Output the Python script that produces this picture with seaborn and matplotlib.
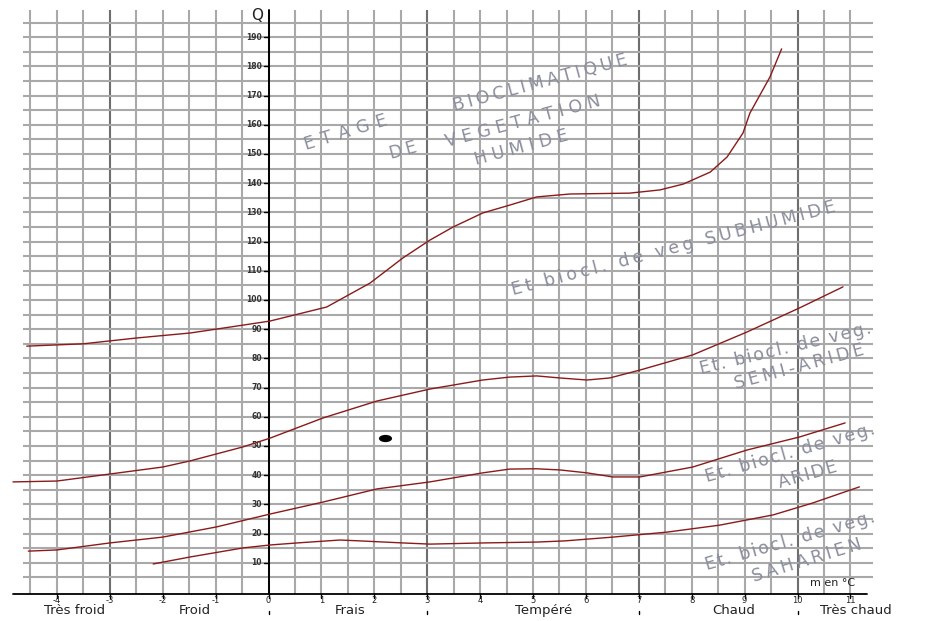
import matplotlib
matplotlib.use("Agg")
import matplotlib.pyplot as plt
from matplotlib.path import Path
from matplotlib.transforms import Affine2D
import seaborn as sns
import numpy as np
import pandas as pd

# ---------------- data ----------------
humide_x = [-4.57, -3.5, -2.49, -1.48, -0.48, 0.03, 1.1, 1.92, 2.54, 3.05, 3.49, 4.05, 4.56, 5.07, 5.7,
            6.83, 7.4, 7.84, 8.35, 8.67, 8.97, 9.1, 9.48, 9.7]
humide_q = [84.2, 85.0, 87.0, 88.7, 91.4, 92.8, 97.6, 105.8, 114.4, 120.5, 125.0, 129.8, 132.5, 135.3, 136.3,
            136.6, 137.7, 139.7, 143.8, 149.0, 157.2, 164.0, 176.4, 186.0]

subhumide_x = [-4.83, -4.0, -3.0, -2.0, -1.48, -0.98, -0.48, 0.03, 1.03, 2.05, 3.05, 4.05, 4.56, 5.07, 5.51,
               6.02, 6.45, 7.02, 8.02, 9.04, 10.04, 10.86]
subhumide_q = [37.7, 38.0, 40.4, 42.8, 44.9, 47.3, 49.7, 52.7, 59.6, 65.4, 69.5, 72.6, 73.6, 74.0, 73.3,
               72.6, 73.3, 76.0, 81.2, 89.0, 97.3, 104.5]

semiaride_x = [-4.54, -4.0, -3.0, -2.0, -0.98, 0.03, 1.03, 2.05, 3.05, 4.05, 4.56, 5.07, 5.51, 6.02, 6.51,
               7.02, 8.02, 9.04, 10.04, 10.9]
semiaride_q = [14.0, 14.4, 16.8, 18.8, 22.3, 26.7, 30.8, 35.3, 37.7, 40.8, 42.1, 42.2, 41.8, 40.8, 39.4,
               39.4, 42.8, 48.6, 53.1, 57.9]

aride_x = [-2.18, -1.48, -0.48, 0.03, 0.54, 1.35, 1.73, 2.54, 3.05, 4.05, 5.07, 5.6, 6.51, 7.53, 8.53,
           9.54, 10.29, 11.17]
aride_q = [9.6, 12.0, 15.1, 16.1, 16.8, 17.8, 17.5, 16.8, 16.4, 16.8, 17.1, 17.5, 18.8, 20.5, 22.9,
           26.4, 30.5, 36.0]

station_x = [2.2]
station_q = [52.7]

x_ticks = list(range(-4, 12))
q_ticks = list(range(10, 200, 10))
zone_labels = ["Très froid", "Froid", "Frais", "Tempéré", "Chaud", "Très chaud"]
zone_pos = [-3.66, -1.39, 1.54, 5.2, 8.8, 11.1]
zone_limits = [0, 3, 7, 10]

# ---------------- figure ----------------
W, H = 936, 621
fig = plt.figure(figsize=(W / 100, H / 100), dpi=100)
ax = fig.add_axes([0, 0, 1, 1])
sns.set_style("white")
plt.rcParams['font.family'] = ['DejaVu Sans']

x0_px, ux = 268.5, 52.9
q0_py, uq = 592.0, 2.92
ax.set_xlim((0 - x0_px) / ux, (W - x0_px) / ux)
ax.set_ylim((q0_py - H) / uq, q0_py / uq)
ax.axis("off")

grid_c = "#a9a9a9"
dark_c = "#6e6e6e"
q_bottom, q_top = -0.8, 199.3

# vertical grid
for xv in np.arange(-4.5, 11.01, 0.5):
    c = dark_c if xv in (-3, 3, 7, 10) else grid_c
    ax.plot([xv, xv], [q_bottom, q_top], color=c, lw=1.5, zorder=1, solid_capstyle="butt")
# horizontal grid
for qv in range(5, 200, 5):
    ax.plot([-4.64, 11.43], [qv, qv], color=grid_c, lw=1.5, zorder=1, solid_capstyle="butt")

# axes lines
ax.plot([-4.83, 11.31], [q_bottom, q_bottom], color="black", lw=1.3, zorder=3)
ax.plot([0, 0], [q_bottom, q_top], color="black", lw=1.4, zorder=3)

# y ticks
for q in q_ticks:
    ax.plot([-0.09, 0], [q, q], color="black", lw=1.0, zorder=3)
    ax.text(-0.12, q, str(q), ha="right", va="center", fontsize=5.5, fontweight="bold",
            color="#333333", zorder=4)
ax.text(-0.22, 197.5, "Q", ha="center", va="center", fontsize=11, color="#222222")

# x ticks
for xv in x_ticks:
    ax.plot([xv, xv], [q_bottom, q_bottom - 1.4], color="black", lw=1.0, zorder=3)
    ax.text(xv, -3.0, str(xv), ha="center", va="center", fontsize=6, color="#222222")
for xv in zone_limits:
    ax.plot([xv, xv], [-6.4, -7.6], color="black", lw=1.0)
for lab, xp in zip(zone_labels, zone_pos):
    ax.text(xp, -6.3, lab, ha="center", va="center", fontsize=9.5, color="#222222")
ax.text(10.67, 3.1, "m en °C", ha="center", va="center", fontsize=8, color="#222222")

# curves
curve_c = "#8b1a1a"
for xs, qs in [(humide_x, humide_q), (subhumide_x, subhumide_q),
               (semiaride_x, semiaride_q), (aride_x, aride_q)]:
    df = pd.DataFrame({"m": xs, "Q": qs})
    sns.lineplot(data=df, x="m", y="Q", ax=ax, color=curve_c, lw=1.0, sort=False,
                 estimator=None, zorder=5)

ellipse = Path.unit_circle().transformed(Affine2D().scale(1.0, 0.55))
sns.scatterplot(x=station_x, y=station_q, ax=ax, color="black", s=90, marker=ellipse,
                edgecolor="black", linewidth=0, zorder=6)

# annotations (wide, letter-spaced grey lettering)
txt_c = "#8a8e9c"
HAIR = "\u200a"
def lab(px, py, s, rot, n_hair, fs=12.5):
    ax.text((px - x0_px) / ux, (q0_py - py) / uq, (HAIR * n_hair).join(s), ha="center",
            va="center", rotation=rot, fontsize=fs, color=txt_c, rotation_mode="anchor",
            zorder=4)

lab(346, 133, "ETAGE", 17, 4)
lab(540, 83, "BIOCLIMATIQUE", 15, 2)
lab(403, 151, "DE", 15, 2)
lab(523, 121, "VEGETATION", 15, 3)
lab(521, 148, "HUMIDE", 15, 3)
lab(674, 248, "Et biocl. de veg SUBHUMIDE", 14.5, 2)
lab(785, 349, "Et. biocl. de veg.", 13.5, 1)
lab(799, 367, "SEMI-ARIDE", 15, 2)
lab(790, 453, "Et. biocl. de veg.", 16, 1)
lab(808, 475, "ARIDE", 16, 1)
lab(790, 541, "Et. biocl. de veg.", 16, 1)
lab(807, 561, "SAHARIEN", 17, 2)

fig.savefig("out.png", dpi=100)
